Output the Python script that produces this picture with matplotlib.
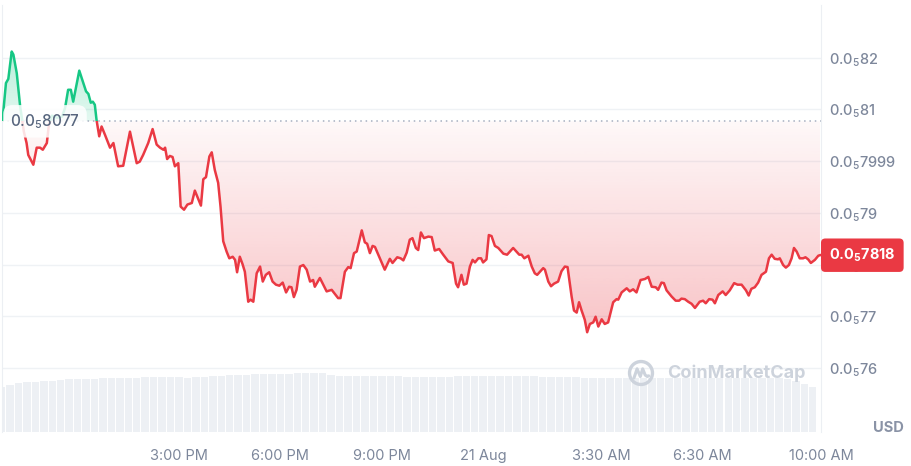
import numpy as np
import matplotlib
matplotlib.use("Agg")
import matplotlib.pyplot as plt
import matplotlib.transforms as mtransforms
from matplotlib.patches import Polygon, Rectangle, Circle

plt.rcParams['font.family'] = ['Inter', 'DejaVu Sans']
plt.rcParams['mathtext.default'] = 'regular'

# time in hours since 20 Aug 00:00, price in units of 1e-5 USD
hours = [9.78, 9.88, 9.95, 10.05, 10.10, 10.20, 10.30, 10.35, 10.41, 10.49,
         10.54, 10.69, 10.79, 10.89, 10.97, 11.09, 11.15, 11.24, 11.39, 11.54,
         11.63, 11.72, 11.80, 11.87, 12.05, 12.17, 12.25, 12.32, 12.39, 12.45,
         12.51, 12.56, 12.64, 12.71, 12.81, 12.96, 13.06, 13.20, 13.35, 13.55,
         13.75, 13.84, 13.94, 14.09, 14.22, 14.34, 14.44, 14.54, 14.59, 14.65,
         14.73, 14.81, 14.88, 14.98, 15.05, 15.15, 15.25, 15.38, 15.47, 15.57,
         15.65, 15.72, 15.80, 15.90, 15.97, 16.06, 16.16, 16.23, 16.31, 16.41,
         16.49, 16.59, 16.66, 16.72, 16.80, 16.88, 16.95, 17.05, 17.12, 17.20,
         17.30, 17.40, 17.48, 17.57, 17.67, 17.77, 17.87, 17.97, 18.07, 18.17,
         18.26, 18.33, 18.40, 18.48, 18.58, 18.68, 18.78, 18.88, 18.97, 19.02,
         19.17, 19.37, 19.52, 19.71, 19.78, 19.91, 20.01, 20.08, 20.18, 20.26,
         20.41, 20.50, 20.57, 20.65, 20.73, 20.80, 21.09, 21.24, 21.32, 21.46,
         21.56, 21.64, 21.74, 21.83, 21.91, 22.01, 22.08, 22.16, 22.25, 22.38,
         22.48, 22.57, 22.70, 22.82, 22.97, 23.10, 23.20, 23.26, 23.36, 23.43,
         23.51, 23.61, 23.69, 23.76, 23.86, 23.94, 24.00, 24.10, 24.17, 24.25,
         24.35, 24.45, 24.60, 24.71, 24.89, 25.07, 25.14, 25.22, 25.34, 25.44,
         25.53, 25.60, 25.78, 25.83, 25.93, 26.01, 26.10, 26.22, 26.32, 26.42,
         26.50, 26.62, 26.69, 26.77, 26.84, 26.91, 27.01, 27.08, 27.16, 27.26,
         27.33, 27.41, 27.51, 27.60, 27.70, 27.85, 27.95, 28.00, 28.10, 28.25,
         28.34, 28.44, 28.54, 28.66, 28.79, 28.89, 28.99, 29.11, 29.18, 29.28,
         29.35, 29.43, 29.58, 29.70, 29.80, 29.87, 29.97, 30.07, 30.17, 30.27,
         30.41, 30.51, 30.59, 30.69, 30.79, 30.86, 30.96, 31.09, 31.18, 31.30,
         31.43, 31.53, 31.65, 31.78, 31.86, 31.94, 32.04, 32.14, 32.24, 32.37,
         32.46, 32.54, 32.63, 32.73, 32.78, 32.88, 32.96, 33.05, 33.13, 33.20,
         33.28, 33.37, 33.47, 33.54, 33.62, 33.70, 33.82, 33.92, 33.97]

price = [0.8080, 0.8151, 0.8159, 0.8212, 0.8206, 0.8170, 0.8106, 0.8084, 0.8057, 0.8035,
         0.8012, 0.7993, 0.8026, 0.8026, 0.8022, 0.8035, 0.8070, 0.8088, 0.8084, 0.8086,
         0.8103, 0.8138, 0.8138, 0.8115, 0.8175, 0.8151, 0.8135, 0.8130, 0.8113, 0.8115,
         0.8109, 0.8080, 0.8048, 0.8067, 0.8051, 0.8026, 0.8035, 0.7990, 0.7991, 0.8057,
         0.7996, 0.7999, 0.8012, 0.8035, 0.8062, 0.8032, 0.8026, 0.8022, 0.8026, 0.8004,
         0.8010, 0.8008, 0.7990, 0.7996, 0.7912, 0.7906, 0.7916, 0.7919, 0.7943, 0.7927,
         0.7914, 0.7965, 0.7969, 0.8009, 0.8017, 0.7983, 0.7958, 0.7912, 0.7845, 0.7825,
         0.7812, 0.7815, 0.7809, 0.7785, 0.7815, 0.7801, 0.7786, 0.7728, 0.7732, 0.7728,
         0.7783, 0.7796, 0.7767, 0.7780, 0.7785, 0.7767, 0.7761, 0.7759, 0.7765, 0.7746,
         0.7757, 0.7756, 0.7737, 0.7751, 0.7796, 0.7799, 0.7790, 0.7767, 0.7770, 0.7757,
         0.7774, 0.7748, 0.7751, 0.7735, 0.7735, 0.7786, 0.7795, 0.7793, 0.7822, 0.7825,
         0.7866, 0.7843, 0.7840, 0.7822, 0.7836, 0.7834, 0.7790, 0.7811, 0.7803, 0.7814,
         0.7812, 0.7808, 0.7823, 0.7848, 0.7851, 0.7832, 0.7828, 0.7862, 0.7851, 0.7854,
         0.7853, 0.7827, 0.7830, 0.7819, 0.7806, 0.7803, 0.7763, 0.7756, 0.7780, 0.7761,
         0.7763, 0.7796, 0.7809, 0.7804, 0.7812, 0.7812, 0.7804, 0.7810, 0.7857, 0.7855,
         0.7836, 0.7832, 0.7821, 0.7819, 0.7832, 0.7819, 0.7819, 0.7812, 0.7817, 0.7796,
         0.7783, 0.7780, 0.7793, 0.7790, 0.7767, 0.7758, 0.7763, 0.7767, 0.7787, 0.7796,
         0.7795, 0.7738, 0.7711, 0.7707, 0.7727, 0.7712, 0.7693, 0.7669, 0.7685, 0.7688,
         0.7699, 0.7680, 0.7694, 0.7685, 0.7688, 0.7727, 0.7733, 0.7732, 0.7746, 0.7754,
         0.7748, 0.7752, 0.7746, 0.7770, 0.7772, 0.7776, 0.7757, 0.7756, 0.7751, 0.7765,
         0.7764, 0.7750, 0.7738, 0.7730, 0.7730, 0.7734, 0.7733, 0.7728, 0.7724, 0.7716,
         0.7728, 0.7730, 0.7725, 0.7733, 0.7732, 0.7725, 0.7741, 0.7748, 0.7741, 0.7750,
         0.7764, 0.7761, 0.7761, 0.7750, 0.7740, 0.7753, 0.7756, 0.7765, 0.7780, 0.7786,
         0.7812, 0.7819, 0.7811, 0.7810, 0.7812, 0.7799, 0.7794, 0.7799, 0.7812, 0.7832,
         0.7825, 0.7812, 0.7812, 0.7814, 0.7810, 0.7803, 0.7809, 0.7817, 0.7818]

open_price = 0.8077
last_price = 0.7818

# volume, one bar per 15 minutes from 9:45 AM
vol_start = 9.75
volume = [4.5, 4.7, 4.9, 5.0, 5.0, 5.1, 5.1, 5.2, 5.3, 5.3, 5.3, 5.3,
          5.4, 5.4, 5.4, 5.4, 5.4, 5.5, 5.5, 5.5, 5.5, 5.5, 5.4, 5.5, 5.5,
          5.6, 5.6, 5.7, 5.7, 5.7, 5.8, 5.8, 5.8, 5.8, 5.8, 5.9, 5.9, 5.9, 5.9,
          5.7, 5.6, 5.6, 5.6, 5.6, 5.6, 5.6, 5.6, 5.6, 5.5, 5.5, 5.5, 5.5, 5.5, 5.5,
          5.6, 5.6, 5.6, 5.6, 5.6, 5.6, 5.6, 5.6, 5.6, 5.6, 5.5, 5.5, 5.5, 5.5, 5.5,
          5.4, 5.4, 5.4, 5.4, 5.4, 5.4, 5.4, 5.4, 5.4, 5.4, 5.4, 5.4, 5.4, 5.4, 5.4,
          5.4, 5.4, 5.4, 5.4, 5.4, 5.4, 5.4, 5.4, 5.4, 5.3, 5.1, 4.8, 4.5]

yticks = [0.76, 0.77, 0.78, 0.79, 0.80, 0.81, 0.82]
ytick_labels = ['0.0$_5$76', '0.0$_5$77', '0.0$_5$78', '0.0$_5$79',
                '0.0$_5$7999', '0.0$_5$81', '0.0$_5$82']
xticks = [15, 18, 21, 24, 27.5, 30.5, 34]
xtick_labels = ['3:00 PM', '6:00 PM', '9:00 PM', '21 Aug', '3:30 AM', '6:30 AM', '10:00 AM']

RED = '#ea3943'
GREEN = '#16c784'
GREY = '#7d879b'

hours = np.array(hours)
price = np.array(price)
xmin, xmax = 9.763, 33.995
ymin, ymax = 0.7476, 0.8302

fig = plt.figure(figsize=(9.11, 4.66), dpi=100)
rect = [2 / 911, 34 / 466, 819 / 911, 427 / 466]

# volume underneath
axv = fig.add_axes(rect)
vt = vol_start + 0.25 * np.arange(len(volume))
axv.bar(vt, volume, width=0.22, color='#edf0f4', linewidth=0)
axv.set_xlim(xmin, xmax)
axv.set_ylim(0, 42.7)
axv.axis('off')

ax = fig.add_axes(rect)
ax.patch.set_alpha(0)
ax.set_xlim(xmin, xmax)
ax.set_ylim(ymin, ymax)

for y in yticks:
    ax.axhline(y, color='#eff2f5', lw=1, zorder=0)

# gradient fills clipped to the area between line and open price
ys = np.linspace(ymin, open_price, 256)
a = np.clip(0.045 + 6.5 * (0.806 - ys), 0, 1)
img = np.zeros((256, 1, 4))
img[..., 0], img[..., 1], img[..., 2] = 234 / 255, 57 / 255, 67 / 255
img[:, 0, 3] = a
im = ax.imshow(img, extent=[xmin, xmax, ymin, open_price], origin='lower',
               aspect='auto', interpolation='bilinear', zorder=1)
lo = np.minimum(price, open_price)
poly = Polygon(np.column_stack([np.r_[hours[0], hours, hours[-1]],
                                np.r_[open_price, lo, open_price]]),
               closed=True, transform=ax.transData)
im.set_clip_path(poly)

ys = np.linspace(open_price, ymax, 256)
a = np.clip(0.12 + 14 * (ys - open_price), 0, 0.35)
img = np.zeros((256, 1, 4))
img[..., 0], img[..., 1], img[..., 2] = 22 / 255, 199 / 255, 132 / 255
img[:, 0, 3] = a
im2 = ax.imshow(img, extent=[xmin, xmax, open_price, ymax], origin='lower',
                aspect='auto', interpolation='bilinear', zorder=1)
hi = np.maximum(price, open_price)
poly2 = Polygon(np.column_stack([np.r_[hours[0], hours, hours[-1]],
                                 np.r_[open_price, hi, open_price]]),
                closed=True, transform=ax.transData)
im2.set_clip_path(poly2)
ax.set_xlim(xmin, xmax)
ax.set_ylim(ymin, ymax)

# line, red below open and green above
l1, = ax.plot(hours, price, color=RED, lw=1.8, zorder=3, solid_joinstyle='round')
l1.set_clip_path(Rectangle((xmin, ymin), xmax - xmin, open_price - ymin,
                           transform=ax.transData))
l2, = ax.plot(hours, price, color=GREEN, lw=1.8, zorder=3, solid_joinstyle='round')
l2.set_clip_path(Rectangle((xmin, open_price), xmax - xmin, ymax - open_price,
                           transform=ax.transData))

ax.axhline(open_price, color='#a6afc0', lw=1.1, ls=(0, (1, 2.5)), zorder=2)

ax.text(xmin + 0.24, open_price, '0.0$_5$8077', fontsize=11, color='#58667e',
        fontweight='medium', va='center', ha='left', zorder=5,
        bbox=dict(boxstyle='round,pad=0.45,rounding_size=0.6', fc='white',
                  ec='none', alpha=0.85))

# axes styling
for s in ['top', 'bottom']:
    ax.spines[s].set_visible(False)
for s in ['left', 'right']:
    ax.spines[s].set_color('#eceff3')
ax.yaxis.tick_right()
ax.set_yticks(yticks, ytick_labels)
ax.set_xticks(xticks, xtick_labels)
ax.tick_params(axis='y', length=0, pad=6, labelsize=10.5, labelcolor=GREY)
ax.tick_params(axis='x', length=0, pad=12, labelsize=10.5, labelcolor=GREY)
for lab in ax.get_yticklabels():
    lab.set_fontweight('medium')

tr = mtransforms.blended_transform_factory(ax.transAxes, ax.transData)
ax.text(1 + 8 / 819, last_price, '0.0$_5$7818', transform=tr, fontsize=10.5,
        color='white', fontweight='bold', va='center', ha='left', zorder=6,
        bbox=dict(boxstyle='round,pad=0.55,rounding_size=0.3', fc=RED, ec='none'))

fig.text(904 / 911, 1 - 428 / 466, 'USD', fontsize=10.5, fontweight='bold',
         color='#8a93a6', ha='right', va='center')

# watermark
fig.text(667 / 911, 1 - 373 / 466, 'CoinMarketCap', fontsize=13, fontweight='bold',
         color='#cdd3dc', ha='left', va='center', zorder=2)
axl = fig.add_axes([627 / 911, 1 - 387 / 466, 28 / 911, 28 / 466])
axl.set_xlim(-1, 1)
axl.set_ylim(-1, 1)
axl.axis('off')
axl.add_patch(Circle((0, 0), 0.82, fill=False, ec='#cdd3dc', lw=2.4))
axl.plot([-0.5, -0.28, -0.05, 0.12, 0.3, 0.45, 0.55],
         [-0.35, 0.3, -0.25, 0.3, -0.15, -0.25, -0.2],
         color='#cdd3dc', lw=2.2, solid_capstyle='round')

fig.savefig('out.png', dpi=100)
